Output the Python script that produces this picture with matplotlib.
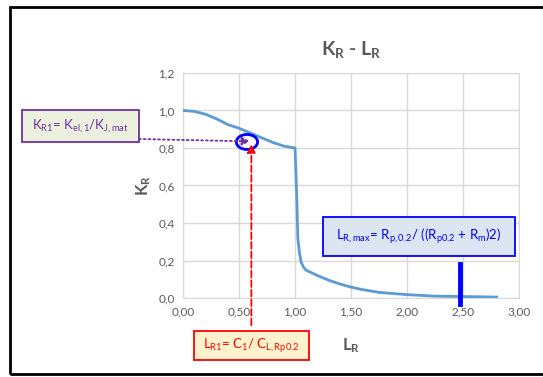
import matplotlib.pyplot as plt
from matplotlib.patches import Rectangle, Ellipse

# curve K_R - L_R
lr = [0.0, 0.1, 0.2, 0.3, 0.4, 0.5, 0.6, 0.7, 0.8, 0.9, 0.95, 1.0,
      1.015, 1.025, 1.04, 1.055, 1.08, 1.1, 1.2, 1.3, 1.4, 1.5, 1.6,
      1.75, 2.0, 2.25, 2.5, 2.8]
kr = [1.0, 0.995, 0.98, 0.955, 0.925, 0.905, 0.88, 0.855, 0.83, 0.81, 0.805, 0.80,
      0.55, 0.32, 0.24, 0.19, 0.16, 0.148, 0.12, 0.095, 0.075, 0.058, 0.045,
      0.03, 0.018, 0.01, 0.008, 0.005]

# assessment point and limits
lr1 = 0.61
kr1 = 0.835
lr_max = 2.475

xticks = [0.0, 0.5, 1.0, 1.5, 2.0, 2.5, 3.0]
yticks = [0.0, 0.2, 0.4, 0.6, 0.8, 1.0, 1.2]

plt.rcParams['font.family'] = ['Lato', 'DejaVu Sans']
plt.rcParams['mathtext.fontset'] = 'custom'
plt.rcParams['mathtext.rm'] = 'Lato'
plt.rcParams['mathtext.it'] = 'Lato'
plt.rcParams['mathtext.bf'] = 'Lato:bold'
plt.rcParams['mathtext.default'] = 'regular'

gray = '#595959'

fig = plt.figure(figsize=(5.43, 3.77), dpi=100)
ax = fig.add_axes([0.337, 0.2095, 0.619, 0.597])

# outer frame of the chart object
fig.patches.append(Rectangle((10, 3), 600, 367, transform=None, fill=False,
                             edgecolor='black', lw=2))

ax.plot(lr, kr, color='#5b9bd5', lw=2, zorder=3)

ax.set_xlim(0, 3)
ax.set_ylim(0, 1.2)
ax.set_xticks(xticks)
ax.set_yticks(yticks)
ax.set_xticklabels([('%.2f' % v).replace('.', ',') for v in xticks])
ax.set_yticklabels([('%.1f' % v).replace('.', ',') for v in yticks])
ax.tick_params(length=0, labelsize=8.5, colors=gray, pad=6)
ax.grid(True, color='#d9d9d9', lw=1)
for s in ax.spines.values():
    s.set_color('#d9d9d9')

ax.set_title(r'$\mathbf{K_R}$ - $\mathbf{L_R}$', fontsize=14, fontweight='bold', color=gray, pad=13)
ax.set_xlabel(r'$\mathbf{L_R}$', fontsize=12, color=gray, labelpad=14)
ax.set_ylabel(r'$\mathbf{K_R}$', fontsize=12, color=gray, labelpad=4)

# L_R,max marker
ax.plot([lr_max, lr_max], [-0.03, 0.18], color='#0000ff', lw=3.5, clip_on=False, zorder=4)

# circle around the assessment point
ax.add_patch(Ellipse((0.571, 0.832), 0.19, 0.08, fill=False, edgecolor='#0000ff',
                     lw=2, zorder=5))

# horizontal purple dotted arrow
ax.annotate('', xy=(0.6, kr1), xycoords='data',
            xytext=(139, 238), textcoords='figure pixels',
            arrowprops=dict(arrowstyle='-|>', color='#7030a0', lw=1.3,
                            linestyle=':', mutation_scale=12, shrinkA=0, shrinkB=0),
            annotation_clip=False, zorder=6)

# vertical red dashed arrow
ax.annotate('', xy=(lr1, 0.82), xycoords='data',
            xytext=(lr1, -0.145), textcoords='data',
            arrowprops=dict(arrowstyle='-|>', color='#ff0000', lw=1.3,
                            linestyle='--', mutation_scale=12, shrinkA=0, shrinkB=0),
            annotation_clip=False, zorder=6)

# text boxes (figure pixels, origin bottom left)
boxes = [
    ((22, 235, 117, 32), '#ebf1de', '#7030a0', '$K_{R1}$= $K_{el,1}$/$K_{J,mat}$'),
    ((194, 17, 115, 29), '#fff2cc', '#ff0000', '$L_{R1}$= $C_1$/ $C_{L,Rp0.2}$'),
    ((323, 121, 192, 39), '#dce6f2', '#0000ff', '$L_{R,max}$= $R_{p,0.2}$/ (($R_{p0.2}$ + $R_m$)2)'),
]
for (x, y, w, h), fc, ec, txt in boxes:
    fig.patches.append(Rectangle((x, y), w, h, transform=None, fc=fc, ec=ec, lw=1.3))
    fig.text(x + w / 2, y + h / 2, txt, transform=None, fontsize=9.5, color=ec,
             ha='center', va='center')

fig.savefig('out.png', dpi=100)
